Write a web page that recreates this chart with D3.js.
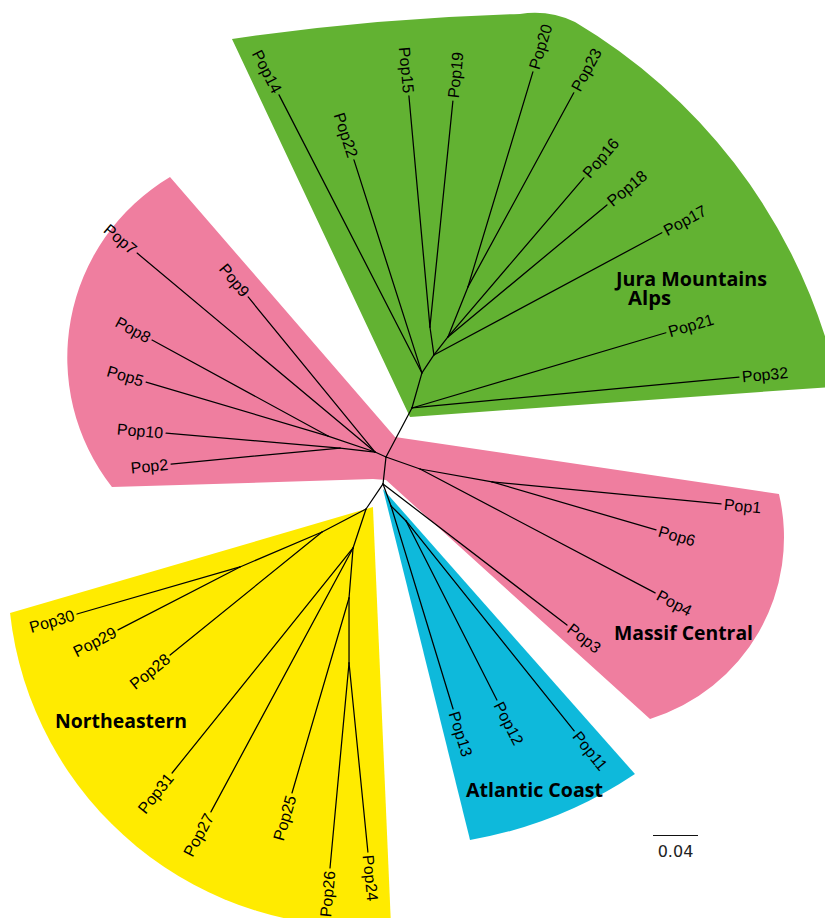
<!DOCTYPE html>
<html>
<head>
<meta charset="utf-8">
<script src="https://cdn.jsdelivr.net/npm/d3@7"></script>
<style>
  html, body { margin: 0; padding: 0; background: #fff; }
  svg { display: block; }
</style>
</head>
<body>
<svg id="chart" width="825" height="918"></svg>
<script>
// Unrooted neighbour-joining tree of 32 populations.
// Each branch: [node, parent, branch length (substitutions/site), direction (degrees, screen space)]
const backbone = [
  ["root", "", 0, 0],
  ["B2", "root", 0.0241, 96.3]
];

const juraAlps = [
  ["G0", "root", 0.0493, -62.1],
  ["Pop32", "G0", 0.2920, -5.4],
  ["Pop21", "G0", 0.2354, -16.5],
  ["G1", "G0", 0.0324, -74.1],
  ["Pop14", "G1", 0.2779, -117.2],
  ["Pop22", "G1", 0.1988, -107.7],
  ["G2", "G1", 0.0192, -56.3],
  ["G3", "G2", 0.0251, -98.1],
  ["Pop15", "G3", 0.2062, -95.2],
  ["Pop19", "G3", 0.2019, -84.2],
  ["Pop17", "G2", 0.2299, -28.2],
  ["G4", "G2", 0.0203, -52.1],
  ["Pop16", "G4", 0.1860, -49.5],
  ["Pop18", "G4", 0.1837, -39.7],
  ["G5", "G4", 0.0479, -68.2],
  ["Pop20", "G5", 0.1997, -73.2],
  ["Pop23", "G5", 0.1965, -61.4]
];

const massifCentral = [
  ["P1", "root", 0.0107, -155.6],
  ["Pop7", "P1", 0.2757, -140.1],
  ["Pop9", "P1", 0.1781, -129.3],
  ["P3", "P1", 0.0441, -161.2],
  ["Pop8", "P3", 0.1782, -151.4],
  ["Pop5", "P3", 0.1687, -163.5],
  ["P2", "P1", 0.0313, -173.5],
  ["Pop10", "P2", 0.1552, -175.1],
  ["Pop2", "P2", 0.1509, 174.6],
  ["R1", "root", 0.0321, 19.4],
  ["R2", "R1", 0.0650, 10.2],
  ["Pop1", "R2", 0.2045, 5.5],
  ["Pop6", "R2", 0.1519, 16.3],
  ["Pop4", "R1", 0.2362, 27.8],
  ["Pop3", "B2", 0.2061, 37.5]
];

const atlanticCoast = [
  ["C1", "B2", 0.0208, 70.0],
  ["Pop13", "C1", 0.1887, 73.0],
  ["C2", "C1", 0.0189, 45.0],
  ["Pop12", "C2", 0.1785, 63.1],
  ["Pop11", "C2", 0.2390, 51.3]
];

const northeastern = [
  ["Y0", "B2", 0.0269, 124.2],
  ["Y1", "Y0", 0.0441, 152.4],
  ["Y5", "Y1", 0.0793, 156.9],
  ["Pop30", "Y5", 0.1508, 163.9],
  ["Pop29", "Y5", 0.1220, 152.7],
  ["Pop28", "Y1", 0.1738, 141.0],
  ["Y2", "Y0", 0.0365, 108.4],
  ["Pop31", "Y2", 0.2567, 128.8],
  ["Pop27", "Y2", 0.2665, 118.3],
  ["Y3", "Y2", 0.0446, 94.6],
  ["Pop25", "Y3", 0.1806, 106.3],
  ["Y4", "Y3", 0.0578, 90.0],
  ["Pop26", "Y4", 0.1830, 95.3],
  ["Pop24", "Y4", 0.1689, 84.3]
];

// Clade shading outlines in tree units from the root: [x, y, radius of the arc ending here (0 = straight)]
const regionJuraAlps = [
  [-0.1369, -0.3716, 0],
  [0.1191, -0.3938, 2.2],
  [0.1680, -0.3867, 0.0844],
  [0.3947, -0.0924, 0.5022],
  [0.3947, -0.0622, 0],
  [0.0213, -0.0356, 0]
];
const regionMassifCentral = [
  [-0.1920, -0.2489, 0],
  [0.0080, -0.0178, 0],
  [0.3493, 0.0329, 0],
  [0.2347, 0.2329, 0.1689],
  [0.0000, 0.0204, 0],
  [-0.0116, 0.0196, 0],
  [-0.2436, 0.0267, 0],
  [-0.1920, -0.2489, 0.1867]
];
const regionAtlantic = [
  [-0.0027, 0.0284, 0],
  [0.2213, 0.2818, 0],
  [0.0747, 0.3404, 0.3804]
];
const regionNortheastern = [
  [-0.3342, 0.1387, 0],
  [-0.0116, 0.0444, 0],
  [0.0044, 0.4160, 0],
  [-0.3342, 0.1387, 0.3129]
];

// clade titles, one entry per line
const cladeTitles = [["Jura Mountains", "Alps"], ["Massif Central"], ["Atlantic Coast"], ["Northeastern"]];
const cladeColors = ["#62b232", "#ef7e9f", "#0eb9db", "#ffeb00"];
const scaleBarValue = 0.04;

// ---- drawing ----
const svg = d3.select("#chart");

// one tree unit = 1125 px, root placed at (386, 457)
const x = d3.scaleLinear().domain([0, 1]).range([386, 386 + 1125]);
const y = d3.scaleLinear().domain([0, 1]).range([457, 457 + 1125]);
const unit = x(1) - x(0);

const rows = backbone.concat(juraAlps, massifCentral, atlanticCoast, northeastern)
  .map(([id, parent, len, ang]) => ({ id, parent, len, ang }));

const root = d3.stratify().id(d => d.id).parentId(d => d.parent || null)(rows);
root.eachBefore(n => {
  if (!n.parent) { n.ux = 0; n.uy = 0; return; }
  const a = n.data.ang * Math.PI / 180;
  n.ux = n.parent.ux + n.data.len * Math.cos(a);
  n.uy = n.parent.uy + n.data.len * Math.sin(a);
});

function outline(pts) {
  let d = `M${x(pts[0][0])},${y(pts[0][1])}`;
  for (let i = 1; i < pts.length; i++) {
    const [px, py, r] = pts[i];
    d += r > 0
      ? `A${r * unit},${r * unit} 0 0 1 ${x(px)},${y(py)}`
      : `L${x(px)},${y(py)}`;
  }
  return d + "Z";
}

const regions = [regionJuraAlps, regionMassifCentral, regionAtlantic, regionNortheastern];
svg.append("g").selectAll("path")
  .data(regions)
  .join("path")
  .attr("d", outline)
  .attr("fill", (d, i) => cladeColors[i]);

// branches
svg.append("g")
  .attr("stroke", "#000")
  .attr("stroke-width", 1.25)
  .attr("stroke-linecap", "round")
  .selectAll("line")
  .data(root.descendants().filter(n => n.parent))
  .join("line")
  .attr("x1", n => x(n.parent.ux))
  .attr("y1", n => y(n.parent.uy))
  .attr("x2", n => x(n.ux))
  .attr("y2", n => y(n.uy));

// tip labels, aligned with their branch and kept upright
svg.append("g")
  .attr("font-family", "'Liberation Sans', Arial, Helvetica, sans-serif")
  .attr("font-size", 16)
  .attr("fill", "#000")
  .selectAll("text")
  .data(root.leaves())
  .join("text")
  .each(function (n) {
    const a = n.data.ang;
    const right = Math.cos(a * Math.PI / 180) >= 0;
    d3.select(this)
      .attr("transform", `translate(${x(n.ux)},${y(n.uy)}) rotate(${right ? a : a + 180})`)
      .attr("x", right ? 3 : -3)
      .attr("dy", "0.35em")
      .attr("text-anchor", right ? "start" : "end")
      .text(n.id);
  });

// clade titles (line positions and widths)
const titleLayout = [
  [{ x: 616, y: 286, w: 151 }, { x: 628, y: 305, w: 43 }],
  [{ x: 614, y: 640, w: 139 }],
  [{ x: 466, y: 797, w: 137 }],
  [{ x: 55, y: 728, w: 132 }]
];
svg.append("g")
  .attr("font-family", "'Open Sans', 'Noto Sans', sans-serif")
  .attr("font-weight", "bold")
  .attr("font-size", 19)
  .attr("fill", "#000")
  .selectAll("text")
  .data(cladeTitles)
  .join("text")
  .each(function (lines, i) {
    d3.select(this).selectAll("tspan")
      .data(lines)
      .join("tspan")
      .attr("x", (d, j) => titleLayout[i][j].x)
      .attr("y", (d, j) => titleLayout[i][j].y)
      .attr("textLength", (d, j) => titleLayout[i][j].w)
      .attr("lengthAdjust", "spacingAndGlyphs")
      .text(d => d);
  });

// scale bar
const bar = svg.append("g").attr("transform", "translate(653,835.5)");
bar.append("line")
  .attr("x1", 0).attr("x2", scaleBarValue * unit)
  .attr("stroke", "#111").attr("stroke-width", 1.2);
bar.append("text")
  .attr("x", scaleBarValue * unit / 2)
  .attr("y", 21)
  .attr("text-anchor", "middle")
  .attr("font-family", "'DejaVu Sans', sans-serif")
  .attr("font-size", 16)
  .attr("fill", "#222")
  .text(d3.format(".2f")(scaleBarValue));
</script>
</body>
</html>
